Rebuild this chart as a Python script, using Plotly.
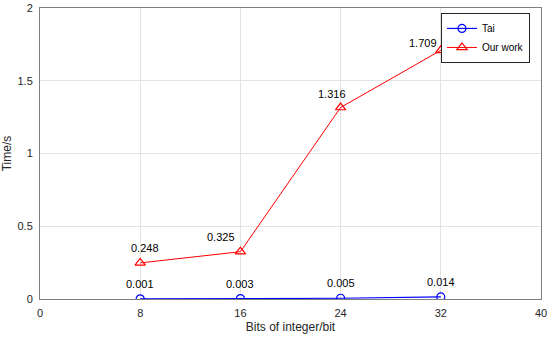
import plotly.graph_objects as go

bits = [8, 16, 24, 32]
tai = [0.001, 0.003, 0.005, 0.014]
ours = [0.248, 0.325, 1.316, 1.709]
tai_labels = ["0.001", "0.003", "0.005", "0.014"]
ours_labels = ["0.248", "0.325", "1.316", "1.709"]
x_ticks = [0, 8, 16, 24, 32, 40]
y_ticks = [0, 0.5, 1, 1.5, 2]
y_tick_text = ["0", "0.5", "1", "1.5", "2"]

font = "Liberation Sans, Arial, Helvetica, sans-serif"

fig = go.Figure()
fig.add_trace(go.Scatter(x=bits, y=tai, name="Tai", mode="lines+markers",
                         line=dict(color="#0000ff", width=1.2),
                         marker=dict(symbol="circle-open", size=8, color="#0000ff", line=dict(width=1.2))))
fig.add_trace(go.Scatter(x=bits, y=ours, name="Our work", mode="lines+markers",
                         line=dict(color="#ff0000", width=1),
                         marker=dict(symbol="triangle-up-open", size=9, color="#ff0000", line=dict(width=1.2))))

for xv, yv, t in zip(bits, tai, tai_labels):
    fig.add_annotation(x=xv, y=yv, text=t, showarrow=False, yshift=15,
                       font=dict(size=11, color="black", family=font))
ours_shift = [(5, 15), (-19, 15), (-9, 14), (-18, 7)]
for (xv, yv, t), (dx, dy) in zip(zip(bits, ours, ours_labels), ours_shift):
    fig.add_annotation(x=xv, y=yv, text=t, showarrow=False, xshift=dx, yshift=dy,
                       font=dict(size=11, color="black", family=font))

axis_common = dict(showgrid=True, gridcolor="#e3e3e3", gridwidth=1, zeroline=False,
                   showline=True, linecolor="#7f7f7f", linewidth=1, mirror=True,
                   ticks="", automargin=False, ticklabeloverflow="allow",
                   tickfont=dict(size=11, color="#262626", family=font))
fig.update_xaxes(range=[0, 40], tickvals=x_ticks, ticklabelstandoff=4,
                 title=dict(text="Bits of integer/bit", standoff=4,
                            font=dict(size=12, color="#262626", family=font)), **axis_common)
fig.update_yaxes(range=[0, 2], tickvals=y_ticks, ticktext=y_tick_text, ticklabelstandoff=4,
                 title=dict(text="Time/s", standoff=10, font=dict(size=12, color="#262626", family=font)),
                 **axis_common)

fig.update_layout(width=550, height=338, margin=dict(l=40, r=9, t=8, b=39),
                  plot_bgcolor="white", paper_bgcolor="white",
                  font=dict(family=font, size=11, color="#262626"),
                  legend=dict(x=0.978, y=0.983, xanchor="right", yanchor="top",
                              bordercolor="#262626", borderwidth=1, bgcolor="white",
                              font=dict(size=10, color="black"), tracegroupgap=0,
                              itemwidth=30),
                  showlegend=True)

fig.write_html("out.html", config={"displayModeBar": False},
               post_script="document.body.style.margin='0';document.body.style.overflow='hidden';")
